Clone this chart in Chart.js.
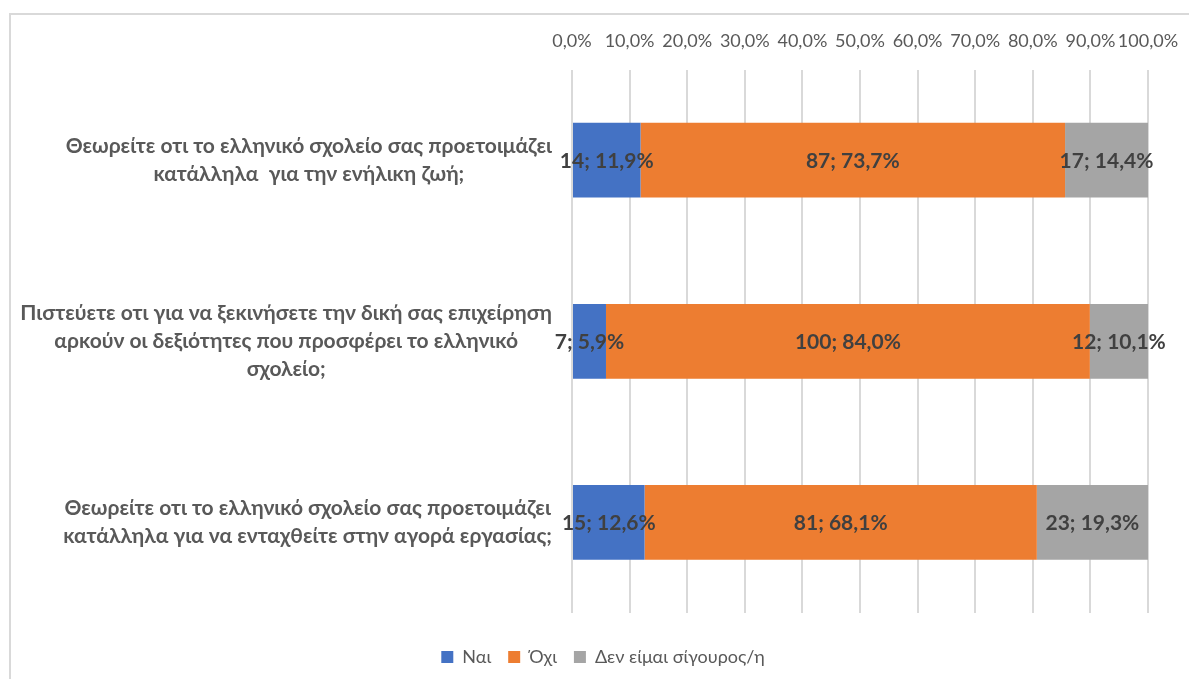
<!DOCTYPE html>
<html>
<head>
<meta charset="utf-8">
<script src="https://cdn.jsdelivr.net/npm/chart.js@4.4.1/dist/chart.umd.min.js"></script>
<style>
  html, body { margin: 0; padding: 0; background: #fff; }
  #wrap { position: relative; width: 1189px; height: 679px; overflow: hidden; }
  #frame { position: absolute; left: 9px; top: 13px; width: 1300px; height: 800px;
           border-left: 2px solid #d9d9d9; border-top: 2px solid #d9d9d9; }
  #ereuna_chart { position: absolute; left: 0; top: 0; }
</style>
</head>
<body>
<div id="wrap">
  <div id="frame"></div>
  <canvas id="ereuna_chart" width="1189" height="679"></canvas>
</div>
<script>
// ερωτήσεις (κατηγορίες), σπασμένες σε γραμμές όπως στο πρωτότυπο
var erotiseis = [
    ["Θεωρείτε οτι το ελληνικό σχολείο σας προετοιμάζει", "κατάλληλα  για την ενήλικη ζωή;"],
    ["Πιστεύετε οτι για να ξεκινήσετε την δική σας επιχείρηση", "αρκούν οι δεξιότητες που προσφέρει το ελληνικό", "σχολείο;"],
    ["Θεωρείτε οτι το ελληνικό σχολείο σας προετοιμάζει", "κατάλληλα για να ενταχθείτε στην αγορά εργασίας;"]
];
var apantiseis = ["Ναι", "Όχι", "Δεν είμαι σίγουρος/η"];

// πλήθος απαντήσεων
var nai_plithos = [14, 7, 15];
var oxi_plithos = [87, 100, 81];
var den_plithos = [17, 12, 23];

// ποσοστά (%)
var nai_pososto = [11.9, 5.9, 12.6];
var oxi_pososto = [73.7, 84.0, 68.1];
var den_pososto = [14.4, 10.1, 19.3];

var xTicks = [0, 10, 20, 30, 40, 50, 60, 70, 80, 90, 100];

var FONT = 'Lato, "Open Sans", sans-serif';

function fmt(v) {
    return v.toFixed(1).replace('.', ',');
}

// ετικέτες δεδομένων πάνω στις μπάρες
var etiketes = {
    id: 'etiketes',
    afterDatasetsDraw: function (chart) {
        var ctx = chart.ctx;
        ctx.save();
        ctx.font = 'bold 21px ' + FONT;
        ctx.fillStyle = '#404040';
        ctx.textAlign = 'center';
        ctx.textBaseline = 'middle';
        chart.data.datasets.forEach(function (ds, i) {
            chart.getDatasetMeta(i).data.forEach(function (bar, j) {
                var c = bar.getCenterPoint();
                ctx.fillText(ds.plithos[j] + '; ' + fmt(ds.data[j]) + '%', c.x, c.y + 1);
            });
        });
        ctx.restore();
    }
};

// ετικέτες κατηγοριών (κεντραρισμένες γραμμές, δεξιά στοίχιση μπλοκ)
var katigories = {
    id: 'katigories',
    afterDraw: function (chart) {
        var ctx = chart.ctx;
        var y = chart.scales.y;
        ctx.save();
        ctx.font = 'bold 21px ' + FONT;
        ctx.fillStyle = '#595959';
        ctx.textAlign = 'center';
        ctx.textBaseline = 'middle';
        var right = chart.chartArea.left - 20;
        var lh = 28;
        erotiseis.forEach(function (lines, i) {
            var w = 0;
            lines.forEach(function (l) { w = Math.max(w, ctx.measureText(l).width); });
            var cx = right - w / 2;
            var cy = y.getPixelForValue(i);
            var top = cy - (lines.length - 1) * lh / 2;
            lines.forEach(function (l, k) {
                ctx.fillText(l, cx, top + k * lh);
            });
        });
        ctx.restore();
    }
};

var ctx = document.getElementById("ereuna_chart").getContext('2d');

var myChartBar = new Chart(ctx, {
    type: 'bar',
    data: {
        labels: erotiseis,
        datasets: [{
            label: apantiseis[0],
            data: nai_pososto,
            plithos: nai_plithos,
            backgroundColor: '#4472C4'
        }, {
            label: apantiseis[1],
            data: oxi_pososto,
            plithos: oxi_plithos,
            backgroundColor: '#ED7D31'
        }, {
            label: apantiseis[2],
            data: den_pososto,
            plithos: den_plithos,
            backgroundColor: '#A5A5A5'
        }]
    },
    options: {
        indexAxis: 'y',
        responsive: false,
        animation: false,
        datasets: {
            bar: { categoryPercentage: 1, barPercentage: 0.413 }
        },
        layout: {
            padding: { left: 58, right: 41, top: 12, bottom: 3 }
        },
        scales: {
            x: {
                position: 'top',
                stacked: true,
                min: 0,
                max: 100,
                afterBuildTicks: function (axis) {
                    axis.ticks = xTicks.map(function (v) { return { value: v }; });
                },
                afterFit: function (axis) {
                    axis.paddingRight = 0;
                    axis.paddingLeft = 0;
                },
                ticks: {
                    padding: 18,
                    maxRotation: 0,
                    minRotation: 0,
                    autoSkip: false,
                    color: '#595959',
                    font: { family: FONT, size: 18 },
                    callback: function (v) { return fmt(v) + '%'; }
                },
                grid: { color: '#d9d9d9', lineWidth: 2, drawTicks: false },
                border: { display: false }
            },
            y: {
                stacked: true,
                ticks: { display: false },
                grid: { display: false },
                border: { display: false },
                afterFit: function (axis) { axis.width = 514; }
            }
        },
        plugins: {
            legend: {
                position: 'bottom',
                title: { display: true, text: ' ', font: { size: 10 }, padding: { top: 6, bottom: 0 } },
                labels: {
                    boxWidth: 12,
                    boxHeight: 12,
                    padding: 17,
                    color: '#595959',
                    font: { family: FONT, size: 18 }
                }
            },
            tooltip: { enabled: false }
        }
    },
    plugins: [etiketes, katigories]
});
</script>
</body>
</html>
